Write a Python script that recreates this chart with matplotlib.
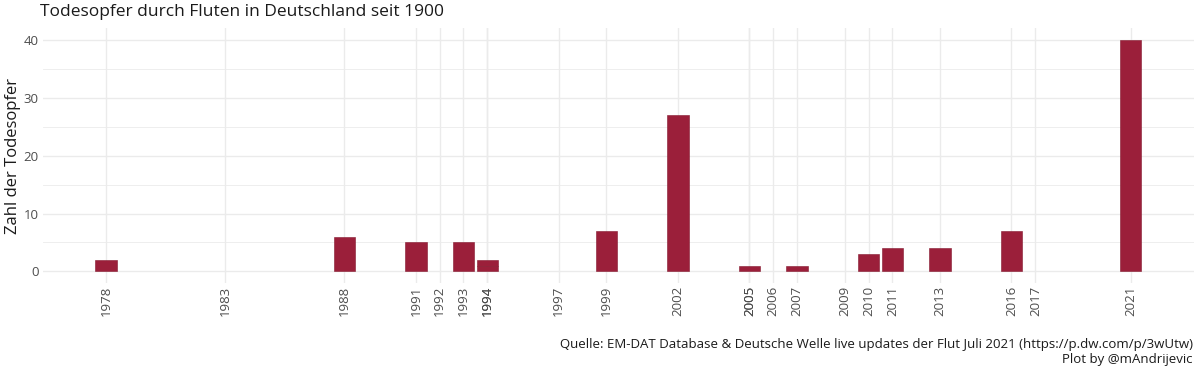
import numpy as np
import matplotlib.pyplot as plt

# flood deaths per event (some years have more than one event)
years = [1978, 1983, 1988, 1991, 1992, 1993, 1994, 1994, 1997, 1999, 2002,
         2005, 2005, 2006, 2007, 2009, 2010, 2011, 2013, 2016, 2017, 2021]
deaths = [2, 0, 6, 5, 0, 5, 1, 1, 0, 7, 27,
          0, 1, 0, 1, 0, 3, 4, 4, 7, 0, 40]

title = "Todesopfer durch Fluten in Deutschland seit 1900"
ylabel = "Zahl der Todesopfer"
caption = ("Quelle: EM-DAT Database & Deutsche Welle live updates der Flut Juli 2021 "
           "(https://p.dw.com/p/3wUtw)\nPlot by @mAndrijevic")

plt.rcParams['font.family'] = ['Open Sans', 'DejaVu Sans']
bar_col = '#9b1f3a'
grid_col = '#ebebeb'
txt_col = '#4d4d4d'

fig = plt.figure(figsize=(12, 3.71), dpi=100)
ax = fig.add_axes([0.0358, 0.237, 0.959, 0.6875])

# stack events of the same year
bottoms = {}
for y, d in zip(years, deaths):
    b = bottoms.get(y, 0)
    if d > 0:
        ax.bar(y, d, bottom=b, width=0.9, color=bar_col, edgecolor='#85192f',
               linewidth=0.4, zorder=3)
    bottoms[y] = b + d

ax.set_xlim(1975.35, 2023.65)
ax.set_ylim(-2, 42)
ax.set_xticks(years)
ax.set_xticklabels([str(y) for y in years], rotation=90)
ax.set_yticks([0, 10, 20, 30, 40])
ax.set_yticks([5, 15, 25, 35], minor=True)

ax.grid(True, which='major', color=grid_col, linewidth=1.0, zorder=0)
ax.grid(True, which='minor', axis='y', color=grid_col, linewidth=0.6, zorder=0)
for s in ax.spines.values():
    s.set_visible(False)
ax.tick_params(axis='both', which='both', length=0, colors=txt_col, labelsize=9.5)
ax.tick_params(axis='x', pad=2)
ax.tick_params(axis='y', pad=3)

fig.text(0.011, 0.237 + 0.6875 / 2, ylabel, fontsize=12, color='#1a1a1a',
         rotation=90, ha='center', va='center')
fig.text(0.0333, 0.967, title, fontsize=12.5, color='#1a1a1a', va='center', ha='left')
fig.text(0.994, 0.014, caption, fontsize=9.5, color='#1a1a1a', ha='right', va='bottom',
         linespacing=1.2)

fig.savefig('out.png', dpi=100, facecolor='white')
